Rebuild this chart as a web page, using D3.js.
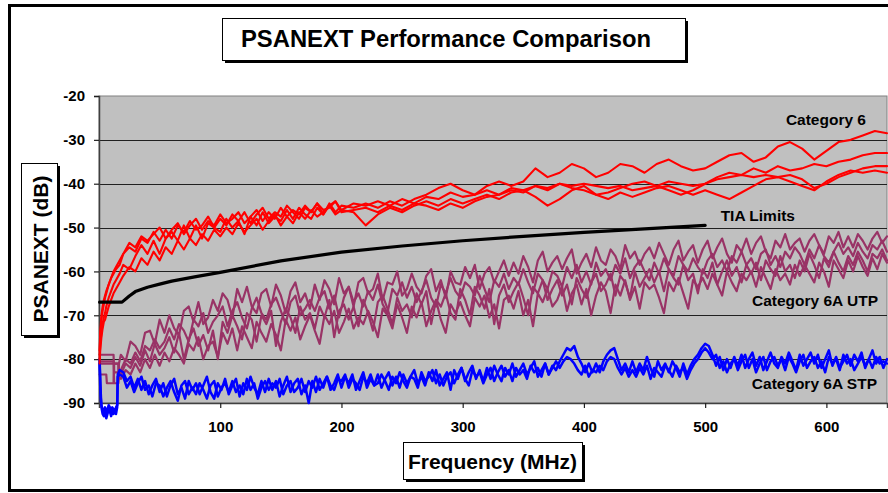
<!DOCTYPE html>
<html><head><meta charset="utf-8">
<script src="https://cdn.jsdelivr.net/npm/d3@7"></script>
<style>body{margin:0;background:#fff}svg{display:block}text{font-family:"Liberation Sans",Arial,sans-serif;font-weight:bold}</style>
</head><body>
<script>
// ---------- DATA ----------
const chartTitle = "PSANEXT Performance Comparison";
const xTitle = "Frequency (MHz)";
const yTitle = "PSANEXT (dB)";
const xTicks = [100, 200, 300, 400, 500, 600];
const yTicks = [-20, -30, -40, -50, -60, -70, -80, -90];
const seriesLabels = ["Category 6", "TIA Limits", "Category 6A UTP", "Category 6A STP"];

// TIA limit line
const tiaFreq = [0.5, 10, 19, 25, 30, 40, 50, 60, 80, 100, 150, 200, 250, 300, 350, 400, 450, 500];
const tiaDb   = [-67, -67, -67, -65.6, -64.6, -63.6, -62.9, -62.2, -61.2, -60.2, -57.6, -55.6, -54.2, -53.0, -52.0, -51.1, -50.3, -49.5];

// Category 6 (4 measured links)
const cat6Freq = [0.5,1,2,3,4,5,6,8,10,12,14,17,
  20,25,30,35,40,45,50,55,60,65,70,75,80,85,90,95,100,105,110,115,120,125,130,135,140,145,150,155,160,165,170,175,180,185,190,195,200,
  210,220,230,240,250,260,270,280,290,300,310,320,330,340,350,360,370,380,390,400,410,420,430,440,450,460,470,480,490,500,510,520,530,540,550,560,570,580,590,600,610,620,630,640,650];
const cat6A = [-80,-77,-74,-72,-70.5,-69.5,-68,-66,-64.5,-63,-62,-60.5,
  -58.5,-59.5,-56.5,-54,-56,-53,-56,-52.5,-51,-53,-49.5,-52.5,-49.5,-52.5,-49,-50,-51,-48,-50,-48.5,-51.5,-47.5,-49.5,-46.5,-49,-47.5,-48.5,-46,-48,-45.5,-47,-48,-45.5,-47,-44.5,-46.5,-45,
  -45.5,-44.5,-45.5,-44,-45,-43.5,-42.5,-41,-40,-41.5,-42.5,-40.5,-39.5,-40.5,-39.5,-36.5,-38.5,-37.5,-35.5,-36.5,-38.5,-37.5,-35.5,-36,-37.5,-35.5,-34.5,-36,-37,-36.5,-35,-33.5,-33,-35,-34,-31.5,-30.5,-32,-34.5,-32.5,-30.5,-30,-29,-28,-28.5];
const cat6B = [-78,-74,-70,-68,-66.5,-65.5,-64.5,-63,-61.5,-60.5,-59.5,-58.5,
  -56,-54.5,-55.5,-52.5,-53.5,-51,-53,-50.5,-52.5,-49.5,-51,-48.5,-50.5,-49.5,-47.5,-50,-48,-49.5,-47,-48.5,-46.5,-49,-47,-45.5,-48,-46.5,-47.5,-45,-46.5,-48,-45.5,-46.5,-44.5,-47,-45,-44,-46,
  -44.5,-45,-44,-45,-43.5,-44.5,-43,-43.5,-42,-43,-42.5,-41.5,-42.5,-41,-41.5,-40.5,-41,-40,-40.5,-40,-40.5,-41,-40.5,-41.5,-41,-40.5,-41.5,-42.5,-41.5,-40,-38.5,-37.5,-38,-36.5,-37.5,-36,-37,-36.5,-35.5,-36,-35,-34.5,-33.5,-33,-33];
const cat6C = [-79,-75,-71,-69,-67.5,-66,-65,-63,-61.5,-60,-59,-57.5,
  -56,-53.5,-54.5,-52,-53,-51.5,-50,-52.5,-50.5,-49,-51.5,-49.5,-48,-50.5,-48.5,-49.5,-47,-49,-48,-46.5,-49,-47.5,-46,-48.5,-46.5,-48,-45.5,-47.5,-46,-47,-45,-46.5,-44.5,-46,-45.5,-44,-46.5,
  -46,-45.5,-46.5,-45,-46,-44.5,-45,-46,-44.5,-45.5,-44,-43,-42.5,-41.5,-42,-40.5,-41.5,-40,-41,-41.5,-42.5,-42,-41,-40,-39.5,-40.5,-39.5,-40,-40.5,-40,-39,-38.5,-38,-38.5,-38,-38.5,-38,-39,-41,-40,-38.5,-37.5,-36.5,-36,-36];
const cat6D = [-81,-78,-75,-73,-71.5,-71,-70,-68,-66.5,-65,-64,-62.5,
  -61,-59,-60,-57,-58.5,-55.5,-57.5,-54.5,-56,-53,-55,-52.5,-54,-51.5,-53,-50.5,-52,-50,-51.5,-49,-51,-49.5,-48,-50.5,-48.5,-47,-49.5,-47.5,-49,-46.5,-48,-46,-47.5,-46.5,-45,-47,-46,
  -46.5,-49.5,-47,-45.5,-46.5,-45,-44,-45,-43.5,-44.5,-43.5,-42.5,-43.5,-42,-41.5,-43,-45,-43.5,-41.5,-40.5,-42.5,-43.5,-42,-43,-42,-41,-40.5,-41.5,-42.5,-41.5,-42.5,-43.5,-42,-40.5,-39,-38.5,-39.5,-40.5,-41.5,-39.5,-38,-37,-37.5,-37,-37.5];

// Category 6A UTP (4 links): low-frequency points, then a sweep from 18 MHz every 4 MHz
const utpLowFreq = [0.5, 6, 6.5, 12, 12.5, 16, 16.5];
const utpSweepStart = 18, utpSweepStep = 4;
const utpALow = [-79, -79, -79, -79, -83, -83, -81];
const utpBLow = [-81, -81, -81, -81, -81, -81, -84];
const utpCLow = [-83.5, -83.5, -85.5, -85.5, -81, -81, -83];
const utpDLow = [-80.5, -80.5, -80.5, -80.5, -85.5, -85.5, -84];
const utpA = [-79,-80.5,-76,-77,-79,-74,-73.5,-76.5,-71,-74,
  -70,-73,-74.5,-69,-68,-71.5,-67,-72,-70.5,-66.5,
  -69,-65,-66.5,-70.5,-64,-67,-63.5,-68,-69.5,-65,
  -64,-68,-63,-65.5,-69.5,-64.5,-62.5,-67,-65,-68.5,
  -63,-66.5,-62,-64,-67.5,-61.5,-65,-63.5,-68,-62.5,
  -61.5,-65,-64,-60.5,-66.5,-62.5,-63,-60,-65.5,-64,
  -60.5,-63.5,-65,-61,-59.5,-64.5,-62,-66,-60,-62.5,
  -63,-59,-61.5,-58.5,-64,-60.5,-59,-62.5,-60,-57.5,
  -61,-58,-60.5,-56.5,-59,-62.5,-57.5,-55.5,-60,-58,
  -56.5,-59.5,-57,-55,-60.5,-58,-56,-59,-54.5,-57.5,
  -58.5,-55,-56.5,-59.5,-54,-57,-55.5,-58.5,-56,-54.5,
  -57,-53.5,-56,-58.5,-55,-53,-57.5,-55.5,-54,-58,
  -55,-53,-57,-54.5,-52.5,-56,-58,-54,-55.5,-52.5,
  -56,-53.5,-52,-55.5,-57,-53,-54.5,-51.5,-55,-53.5,
  -52.5,-55.5,-53,-51.5,-54,-56,-52,-53.5,-51,-54.5,
  -52,-54.5,-51.5,-53,-55,-52.5,-51,-53.5,-52];
const utpB = [-82.5,-80,-81,-78.5,-80.5,-77,-78,-75.5,-77.5,-76,
  -73,-75.5,-72,-73.5,-76,-71,-72.5,-69.5,-74,-71.5,
  -70,-68,-72.5,-69,-67,-70.5,-73,-68.5,-66,-69.5,
  -71,-67.5,-66,-69,-72,-67,-65.5,-70,-68.5,-66.5,
  -69,-66,-64.5,-68.5,-65.5,-70.5,-66,-63.5,-67,-65,
  -68,-64.5,-66.5,-63,-67.5,-69.5,-64,-65.5,-62.5,-66,
  -63.5,-67,-64.5,-62,-66,-68,-63,-65,-61.5,-64.5,
  -66,-62.5,-63.5,-65.5,-61,-64,-67,-62,-63.5,-60.5,
  -64,-61.5,-63,-59.5,-62.5,-65,-60.5,-62,-64,-60,
  -61,-63.5,-59,-61.5,-58.5,-62.5,-60,-63,-58,-61,
  -59.5,-62,-58.5,-60.5,-57,-61.5,-59,-57.5,-60,-62,
  -58,-60.5,-57,-59.5,-61,-56.5,-58.5,-60,-57,-59,
  -60.5,-57.5,-56,-59,-57.5,-60,-56.5,-58,-55.5,-58.5,
  -57,-59.5,-56,-55,-58.5,-56.5,-59,-55.5,-57,-54.5,
  -56,-58.5,-55,-57,-54,-56.5,-58,-55.5,-53.5,-56,
  -54.5,-56.5,-53.5,-55.5,-57,-54,-55,-53,-55.5];
const utpC = [-83.5,-81,-82,-79.5,-81.5,-78,-80.5,-76.5,-79,-77.5,
  -75,-78.5,-74,-80,-75.5,-73,-77,-74.5,-78,-73.5,
  -80,-71.5,-74,-70,-72.5,-75.5,-69.5,-71,-76,-70,
  -72,-69,-77,-71.5,-68.5,-70.5,-74,-68,-71,-69.5,
  -73,-68,-70.5,-66.5,-75,-69,-67.5,-71,-68,-72.5,
  -66.5,-69.5,-73.5,-67,-65.5,-68.5,-72,-66,-69,-67.5,
  -70.5,-65,-67.5,-64.5,-72,-66.5,-68,-65,-69.5,-71,
  -64,-66.5,-70,-63.5,-65.5,-68.5,-64,-72,-65.5,-63,
  -67,-64.5,-62.5,-66,-70,-63.5,-65,-62,-66.5,-64,
  -62,-65.5,-63,-67.5,-61.5,-64,-66,-62.5,-60.5,-64.5,
  -63,-60.5,-65.5,-61,-62.5,-66,-60,-63.5,-61.5,-59.5,
  -62.5,-60,-64.5,-59.5,-61.5,-63,-58.5,-62,-60.5,-65,
  -59.5,-61.5,-58,-63,-60,-57.5,-61,-59,-62.5,-58.5,
  -60.5,-58,-62,-57.5,-59.5,-61,-56.5,-60,-58.5,-61.5,
  -57.5,-60,-56,-58.5,-61.5,-57,-59,-55.5,-58,-60,
  -56.5,-58.5,-55.5,-57.5,-60,-56,-57,-55,-57.5];
const utpD = [-84.5,-82.5,-83.5,-81,-83,-80,-82,-79,-81.5,-78.5,
  -80.5,-77.5,-79,-81,-76.5,-78,-75,-80,-77,-76,
  -79.5,-74,-76.5,-73,-78,-72.5,-75,-77.5,-71.5,-74,
  -76,-72,-74.5,-78,-71,-73.5,-70.5,-75.5,-72.5,-70,
  -73.5,-76.5,-70,-72,-69,-74,-71.5,-68.5,-73,-70.5,
  -72,-69,-71.5,-75,-68.5,-70,-73,-67.5,-70.5,-74,
  -68,-70.5,-67,-72.5,-69,-66.5,-71,-74,-67.5,-69.5,
  -67,-70,-72.5,-66,-68,-65.5,-70.5,-67.5,-73,-66.5,
  -65.5,-68.5,-64.5,-70,-66.5,-72.5,-65,-67,-64,-68,
  -66.5,-63.5,-69,-65,-63,-67.5,-64,-70,-65.5,-62.5,
  -64.5,-69.5,-63,-65.5,-62,-66.5,-63.5,-68.5,-62.5,-64,
  -63,-66,-69.5,-62.5,-64.5,-61.5,-65,-68.5,-62,-63.5,
  -61.5,-64,-60.5,-63,-65.5,-60,-62.5,-64.5,-60.5,-62,
  -60,-63.5,-59,-61.5,-64,-59.5,-62,-60.5,-63,-58.5,
  -61,-58.5,-60.5,-62.5,-58,-60,-63.5,-57.5,-59.5,-61.5,
  -57.5,-60,-56.5,-59,-61,-57,-59.5,-56,-58];

// Category 6A STP (2 links): low-frequency points, then a sweep from 20 MHz every 3 MHz
const stpLowFreq = [0.5,1,1.5,2,3,4,5,6,7,8,9,10,11,12,13,14,15,15.5,17];
const stpSweepStart = 20, stpSweepStep = 3;
const stpALow = [-80,-84,-88,-91,-92.5,-93,-92,-93.5,-92.5,-91.5,-92,-93,-92,-92.5,-91.5,-92.5,-91,-83.5,-82.5];
const stpBLow = [-81,-86,-89,-90.5,-91.5,-92,-91,-92,-91.5,-90.5,-91,-92,-91,-91.5,-92,-91,-90.5,-84,-83.5];
const stpA = [-83,-85,-84,-86.5,-84.5,-87,-85,-88,-86,-84.5,
  -87.5,-85.5,-88.5,-86,-84.5,-88,-86.5,-89,-85,-87,
  -85.5,-88,-86,-84,-87.5,-89,-85.5,-87,-84.5,-88,
  -86,-84.5,-88.5,-85.5,-87,-84,-86.5,-88,-85,-87.5,
  -84.5,-87,-85,-88.5,-86,-84,-87.5,-85.5,-84.5,-88,
  -86,-90,-85,-87.5,-84.5,-86.5,-84,-87,-85.5,-83.5,
  -86.5,-84,-85.5,-83.5,-87,-85,-83,-86.5,-84.5,-86,
  -83.5,-86.5,-84.5,-83,-86,-84,-86.5,-83.5,-85.5,-84,
  -82.5,-85.5,-84,-86,-83,-85,-82.5,-86,-84.5,-83,
  -87,-82.5,-84.5,-82,-85,-83,-81.5,-84.5,-82.5,-85,
  -82,-84.5,-81.5,-83.5,-85,-82,-83.5,-81,-84,-82.5,
  -81,-83.5,-82,-80.5,-84,-82.5,-81,-83.5,-81.5,-82.5,
  -80.5,-79,-77.5,-78,-77,-79.5,-81,-83,-81,-83,
  -81,-83,-80.5,-79,-78,-77.5,-80,-82.5,-81,-83,
  -80.5,-83,-81,-82.5,-79.5,-82,-84,-80.5,-82.5,-81,
  -83,-80.5,-82,-84,-81,-83.5,-81.5,-80,-79,-77.5,
  -76.5,-77,-79,-81.5,-79.5,-82.5,-80,-82,-79.5,-81.5,
  -79,-82,-80,-78.5,-81.5,-79.5,-82.5,-80.5,-78.5,-81,
  -82,-79.5,-81,-78.5,-80.5,-82.5,-79,-81.5,-80,-78.5,
  -81,-79,-82,-80,-78,-81.5,-79.5,-82,-80.5,-79,
  -81.5,-79,-80.5,-78.5,-82,-80,-78,-81,-79.5,-82,
  -80];
const stpB = [-84,-86.5,-85,-87.5,-85.5,-84,-87,-86,-88.5,-85.5,
  -86,-88.5,-86.5,-85,-87.5,-89.5,-86,-85,-88,-86.5,
  -88,-85.5,-87,-89,-86,-85,-88.5,-86.5,-85.5,-87.5,
  -85,-87.5,-86,-88,-84.5,-87,-85.5,-89,-86.5,-85,
  -87,-85.5,-86.5,-84.5,-88,-86,-85,-87.5,-86.5,-84.5,
  -87.5,-85,-86.5,-84,-87,-85.5,-84,-86,-87,-84.5,
  -85,-83.5,-86.5,-84.5,-85.5,-87,-84,-85.5,-83.5,-86,
  -85.5,-83.5,-85,-87,-84,-85.5,-83,-85,-86.5,-84,
  -84.5,-86.5,-83,-85,-84,-82.5,-85.5,-83.5,-86,-84,
  -83,-85.5,-83.5,-82,-84.5,-86,-82.5,-84,-83,-85.5,
  -83.5,-82,-85,-83,-81.5,-84,-82.5,-85,-82,-83.5,
  -82.5,-84.5,-81.5,-83,-82,-84,-81,-83.5,-82,-80.5,
  -82,-80.5,-79.5,-80,-81,-82.5,-83.5,-81.5,-84,-82.5,
  -83,-81.5,-82.5,-80.5,-79.5,-80,-82,-83.5,-82,-84,
  -82.5,-84,-82,-83.5,-81.5,-84.5,-82,-83,-84,-81.5,
  -82.5,-84,-81.5,-83,-82,-84.5,-82.5,-81,-80,-78.5,
  -77.5,-78.5,-80,-79,-82,-80.5,-83,-81,-80,-82.5,
  -80.5,-79,-82,-80,-83,-81,-79.5,-82.5,-80.5,-79.5,
  -81.5,-80,-82.5,-79.5,-81,-83,-80.5,-79,-82,-80.5,
  -79.5,-82,-80.5,-83,-79.5,-81,-80,-82.5,-79,-81,
  -80,-82.5,-81,-79.5,-81.5,-80,-82,-79.5,-81,-80.5,
  -81];

// ---------- CHART ----------
const W = 888, H = 493;
const svg = d3.select("body").append("svg").attr("width", W).attr("height", H);
const x = d3.scaleLinear().domain([0, 650]).range([99, 887]);
const y = d3.scaleLinear().domain([-90, -20]).range([403, 96]);

// outer frame
svg.append("rect").attr("x", 9.5).attr("y", 5.5).attr("width", 900).attr("height", 485)
  .attr("fill", "none").attr("stroke", "#000").attr("stroke-width", 3);

// plot area
svg.append("rect").attr("x", x(0)).attr("y", y(-20)).attr("width", x(650) - x(0)).attr("height", y(-90) - y(-20))
  .attr("fill", "#c0c0c0").attr("stroke", "#808080").attr("stroke-width", 1);

// gridlines
svg.append("g").selectAll("line").data(yTicks.filter(v => v > -90 && v < -20)).join("line")
  .attr("x1", x(0)).attr("x2", x(650)).attr("y1", d => Math.round(y(d)) + 0.5).attr("y2", d => Math.round(y(d)) + 0.5)
  .attr("stroke", "#202020").attr("stroke-width", 1.2);

// axes
const yAxis = d3.axisLeft(y).tickValues(yTicks).tickSize(5).tickPadding(9).tickFormat(d => String(d));
const gy = svg.append("g").attr("transform", `translate(${x(0)},0)`).call(yAxis);
const xAxis = d3.axisBottom(x).tickValues(xTicks).tickSize(5).tickPadding(13).tickFormat(d => String(d));
const gx = svg.append("g").attr("transform", `translate(0,${y(-90)})`).call(xAxis);
[gy, gx].forEach(g => {
  g.select(".domain").attr("stroke", "#404040").attr("stroke-width", 1.5);
  g.selectAll(".tick line").attr("stroke", "#202020").attr("stroke-width", 1.2);
  g.selectAll(".tick text").attr("fill", "#000").style("font-size", "15px").style("font-weight", "bold")
    .style("font-family", '"Liberation Sans", Arial, sans-serif');
});

// series helpers
const line = d3.line().x(d => x(d[0])).y(d => y(d[1]));
function pairs(freqs, vals) { return vals.map((v, i) => [freqs[i], v]).filter(p => p[0] !== undefined); }
function sweep(start, step, n) { return Array.from({length: n}, (_, i) => start + i * step); }
function draw(pts, color, w) {
  svg.append("path").datum(pts).attr("d", line).attr("fill", "none").attr("stroke", color)
    .attr("stroke-width", w).attr("stroke-linejoin", "round").attr("stroke-linecap", "round");
}

const utpFreq = utpLowFreq.concat(sweep(utpSweepStart, utpSweepStep, utpA.length));
[[utpALow, utpA], [utpBLow, utpB], [utpCLow, utpC], [utpDLow, utpD]].forEach(([lo, hi]) =>
  draw(pairs(utpFreq, lo.concat(hi)), "#993366", 2.2));

const stpFreq = stpLowFreq.concat(sweep(stpSweepStart, stpSweepStep, stpA.length));
[[stpALow, stpA], [stpBLow, stpB]].forEach(([lo, hi]) =>
  draw(pairs(stpFreq, lo.concat(hi)), "#0000ff", 2.5));

[cat6A, cat6B, cat6C, cat6D].forEach(v => draw(pairs(cat6Freq, v), "#ff0000", 2.1));

draw(pairs(tiaFreq, tiaDb), "#000000", 3.2);

// series labels
const labelPos = [[866, 125], [795, 221], [878, 306], [877, 389]];
svg.append("g").selectAll("text").data(seriesLabels).join("text")
  .attr("x", (d, i) => labelPos[i][0]).attr("y", (d, i) => labelPos[i][1])
  .attr("text-anchor", "end").style("font-size", "15.5px").text(d => d);

// boxed titles with shadow
function box(bx, by, bw, bh) {
  svg.append("rect").attr("x", bx + 3).attr("y", by + 3).attr("width", bw).attr("height", bh).attr("fill", "#000");
  svg.append("rect").attr("x", bx + 0.5).attr("y", by + 0.5).attr("width", bw).attr("height", bh)
    .attr("fill", "#fff").attr("stroke", "#000").attr("stroke-width", 1);
}
box(222, 18, 463, 42);
svg.append("text").attr("x", 241).attr("y", 47).style("font-size", "23px")
  .attr("textLength", 410).attr("lengthAdjust", "spacingAndGlyphs").text(chartTitle);

box(21, 163, 36, 172);
svg.append("text").attr("transform", "translate(47.5,249) rotate(-90)").attr("text-anchor", "middle")
  .style("font-size", "21px").text(yTitle);

box(403, 442, 179, 37);
svg.append("text").attr("x", 492.5).attr("y", 468.5).attr("text-anchor", "middle")
  .style("font-size", "21px").text(xTitle);
</script>
</body></html>
